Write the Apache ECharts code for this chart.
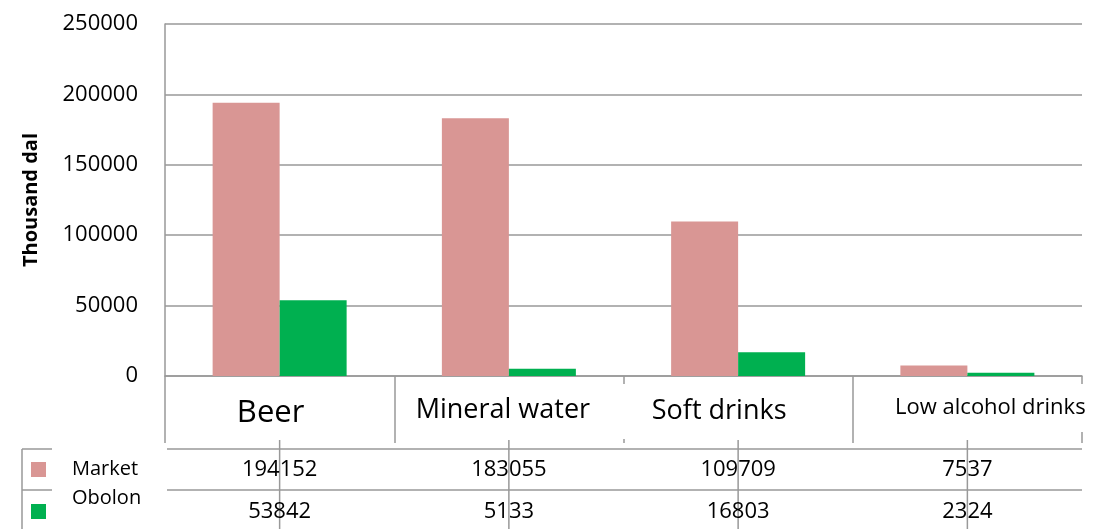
<!DOCTYPE html>
<html>
<head>
<meta charset="utf-8">
<script src="https://cdn.jsdelivr.net/npm/echarts@6/dist/echarts.min.js"></script>
<style>
  html, body { margin: 0; padding: 0; background: #fff; }
  #chart { width: 1095px; height: 529px; }
</style>
</head>
<body>
<div id="chart"></div>
<script>
// data
const categories = ['Beer', 'Mineral water', 'Soft drinks', 'Low alcohol drinks'];
const marketValues = [194152, 183055, 109709, 7537];
const obolonValues = [53842, 5133, 16803, 2324];
const seriesNames = ['Market', 'Obolon'];
const yTicks = [0, 50000, 100000, 150000, 200000, 250000];

const colors = ['#D99694', '#00B050'];
const lineColor = '#999';
const font = '"Open Sans", "Liberation Sans", sans-serif';

// per-category label look (the source chart has them a bit uneven)
const catLabelSize = [31, 27, 27, 22];
const catLabelDx = [-9, -6, -19, 23];
const catLabelY = [413, 410, 411, 408];
const catLabelBox = [false, true, false, true];

const chart = echarts.init(document.getElementById('chart'), null, { renderer: 'canvas' });

const option = {
    animation: false,
    backgroundColor: '#fff',
    textStyle: { fontFamily: font },
    grid: { left: 165, right: 13, top: 24, bottom: 153, containLabel: false },
    xAxis: {
        type: 'category',
        data: categories,
        boundaryGap: true,
        axisLine: { show: true, lineStyle: { color: lineColor, width: 1.5 } },
        axisTick: { show: true, length: 67, lineStyle: { color: lineColor, width: 1.5 } },
        axisLabel: { show: false }
    },
    yAxis: {
        type: 'value',
        min: yTicks[0],
        max: yTicks[yTicks.length - 1],
        interval: yTicks[1] - yTicks[0],
        name: 'Thousand dal',
        nameLocation: 'middle',
        nameGap: 124,
        nameTextStyle: { fontSize: 20, fontWeight: 'bold', color: '#000', fontFamily: font },
        axisLine: { show: true, lineStyle: { color: lineColor, width: 1.5 } },
        axisTick: { show: false },
        axisLabel: {
            fontSize: 22,
            color: '#000',
            margin: 27,
            fontFamily: font,
            formatter: v => String(v)
        },
        splitLine: { show: true, lineStyle: { color: lineColor, width: 1.5 } }
    },
    series: [
        {
            name: seriesNames[0],
            type: 'bar',
            data: marketValues,
            barWidth: 67,
            barGap: '0%',
            itemStyle: { color: colors[0] }
        },
        {
            name: seriesNames[1],
            type: 'bar',
            data: obolonValues,
            barWidth: 67,
            barGap: '0%',
            itemStyle: { color: colors[1] }
        }
    ]
};

chart.setOption(option);

// data table under the axis
const gridRight = 1082;
const tableLeft = 22;
const rowTop = [449, 490];
const rowBottom = 529;
const rowMid = [470, 512];
const legendRowMid = [469, 498];
const edges = [];
for (let i = 0; i <= categories.length; i++) {
    edges.push(chart.convertToPixel({ xAxisIndex: 0 }, i - 0.5));
}
const centers = categories.map((c, i) => chart.convertToPixel({ xAxisIndex: 0 }, i));

const graphics = [];
const lineStyle = { stroke: lineColor, lineWidth: 1.5 };

rowTop.forEach(y => {
    graphics.push({ type: 'line', shape: { x1: tableLeft, y1: y, x2: gridRight, y2: y }, style: lineStyle, z: 10 });
});
graphics.push({ type: 'line', shape: { x1: tableLeft, y1: rowTop[0], x2: tableLeft, y2: rowBottom }, style: lineStyle, z: 10 });
edges.forEach(x => {
    graphics.push({ type: 'line', shape: { x1: x, y1: 440, x2: x, y2: rowBottom }, style: lineStyle, z: 10 });
});

// category labels
categories.forEach((c, i) => {
    graphics.push({
        type: 'text',
        x: centers[i] + catLabelDx[i],
        y: catLabelY[i],
        z: 50,
        style: {
            text: c,
            fontSize: catLabelSize[i],
            fontFamily: font,
            fill: '#000',
            align: 'center',
            verticalAlign: 'middle'
        }
    });
    if (catLabelBox[i]) {
        const left = edges[i] + 1;
        const right = i === categories.length - 1 ? 1090 : edges[i + 1] - 1;
        graphics.push({
            type: 'rect',
            shape: { x: left, y: 384, width: right - left, height: i === 3 ? 48 : 55 },
            style: { fill: '#fff' },
            z: 40
        });
    }
});

// legend keys / row headers
graphics.push({ type: 'rect', shape: { x: 52, y: 444, width: 115, height: 82 }, style: { fill: '#fff' }, z: 40 });
seriesNames.forEach((n, k) => {
    graphics.push({
        type: 'rect',
        shape: { x: 31, y: rowMid[k] - 8, width: 15, height: 15 },
        style: { fill: colors[k] },
        z: 50
    });
    graphics.push({
        type: 'text',
        x: 72,
        y: legendRowMid[k],
        z: 50,
        style: { text: n, fontSize: 20, fontFamily: font, fill: '#000', align: 'left', verticalAlign: 'middle' }
    });
});

// values
[marketValues, obolonValues].forEach((vals, k) => {
    vals.forEach((v, i) => {
        graphics.push({
            type: 'text',
            x: centers[i],
            y: rowMid[k],
            z: 50,
            style: { text: String(v), fontSize: 22, fontFamily: font, fill: '#000', align: 'center', verticalAlign: 'middle' }
        });
    });
});

chart.setOption({ graphic: { elements: graphics } });
</script>
</body>
</html>
